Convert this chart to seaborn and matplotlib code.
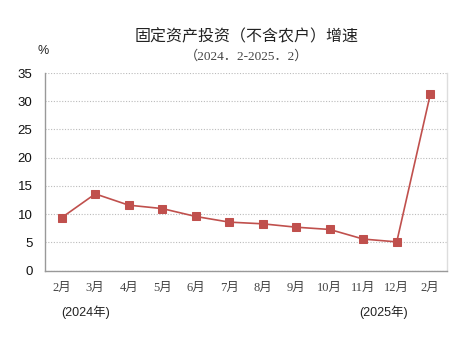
import matplotlib
matplotlib.use("Agg")
import matplotlib.pyplot as plt
import seaborn as sns
import pandas as pd
import numpy as np

# ---- data ----
months = ["2月", "3月", "4月", "5月", "6月", "7月", "8月", "9月", "10月", "11月", "12月", "2月"]
growth = [9.4, 13.6, 11.6, 11.0, 9.6, 8.6, 8.3, 7.7, 7.3, 5.6, 5.1, 31.2]
year_labels = ["(2024年)", "(2025年)"]
year_label_pos = [0.7, 9.6]
yticks = [0, 5, 10, 15, 20, 25, 30, 35]
title = "固定资产投资（不含农户）增速"
subtitle = "（2024．2-2025．2）"
unit = "%"

df = pd.DataFrame({"pos": np.arange(len(months)), "growth": growth})

sns.set_theme(style="white")
plt.rcParams["font.family"] = ["Noto Sans CJK SC", "DejaVu Sans"]

fig = plt.figure(figsize=(4.67, 3.37), dpi=100)
ax = fig.add_axes([45 / 467, 1 - 270.7 / 337, (447 - 45) / 467, (270.7 - 73) / 337])

red = "#C0504D"
sns.lineplot(data=df, x="pos", y="growth", ax=ax, color=red, linewidth=1.2,
             marker="s", markersize=5.5, markeredgecolor=red, markerfacecolor=red)

ax.set_xlim(-0.5, len(months) - 0.5)
ax.set_ylim(0, 35)
ax.set_yticks(yticks)
ax.set_yticklabels([str(v) for v in yticks], family=["Liberation Sans"], fontsize=9.5, color="#111111")
ax.tick_params(axis="y", length=0, pad=9)

# boundary ticks (inward) and centered labels
ax.set_xticks(np.arange(0.5, len(months) - 1, 1.0))
ax.set_xticklabels([])
ax.tick_params(axis="x", which="major", direction="in", length=4, width=0.8, color="#999999")
ax.set_xticks(np.arange(len(months)), minor=True)
ax.set_xticklabels(months, minor=True, family=["Liberation Serif", "Noto Sans CJK SC"],
                   fontsize=9, color="#444444")
ax.tick_params(axis="x", which="minor", length=0, pad=8)
ax.set_xlabel("")
ax.set_ylabel("")

ax.grid(axis="y", linestyle=(0, (1, 1.5)), color="#BBBBBB", linewidth=0.8)
ax.grid(axis="x", visible=False)
for s in ["left", "bottom"]:
    ax.spines[s].set_color("#999999")
    ax.spines[s].set_linewidth(1.0)
ax.spines["right"].set_color("#DDDDDD")
ax.spines["right"].set_linewidth(1.0)
ax.spines["top"].set_visible(False)

# year labels
for lbl, pos in zip(year_labels, year_label_pos):
    ax.text(pos, -7.3, lbl, ha="center", va="center", fontsize=9,
            family=["Liberation Sans", "Noto Sans CJK SC"], color="#222222")

fig.text(247 / 467, 1 - 36.5 / 337, title, ha="center", va="center", fontsize=11.5, color="#222222")
fig.text(247 / 467, 1 - 56 / 337, subtitle, ha="center", va="center", fontsize=9.5,
         family=["Liberation Serif", "Noto Sans CJK SC"], color="#444444")
fig.text(43 / 467, 1 - 51 / 337, unit, ha="center", va="center", fontsize=9,
         family=["Liberation Sans"], color="#222222")

fig.savefig("out.png", dpi=100)
